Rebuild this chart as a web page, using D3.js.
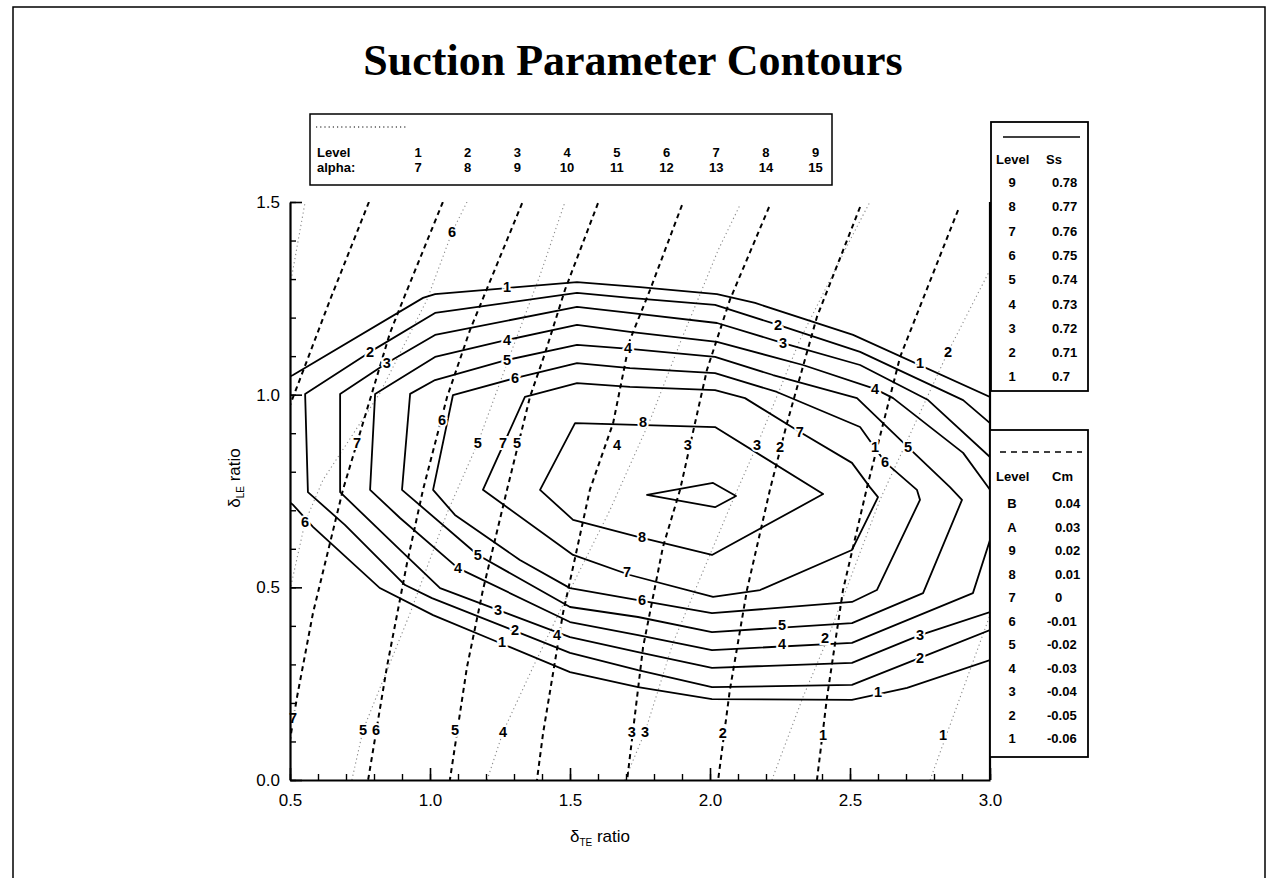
<!DOCTYPE html>
<html>
<head>
<meta charset="utf-8">
<script src="https://cdn.jsdelivr.net/npm/d3@7"></script>
<style>
  body { margin: 0; background: #fff; }
  text { font-family: "Liberation Sans", Arial, sans-serif; fill: #000; }
</style>
</head>
<body>
<div id="chart"></div>
<script>
// ---- data (in axis units) ----
var xTicks = [0.5, 1.0, 1.5, 2.0, 2.5, 3.0];
var yTicks = [0.0, 0.5, 1.0, 1.5];

var alphaLevels = ["1", "2", "3", "4", "5", "6", "7", "8", "9"];
var alphaValues = ["7", "8", "9", "10", "11", "12", "13", "14", "15"];
var ssLevels = ["9", "8", "7", "6", "5", "4", "3", "2", "1"];
var ssValues = ["0.78", "0.77", "0.76", "0.75", "0.74", "0.73", "0.72", "0.71", "0.7"];
var cmLevels = ["B", "A", "9", "8", "7", "6", "5", "4", "3", "2", "1"];
var cmValues = ["0.04", "0.03", "0.02", "0.01", "0", "-0.01", "-0.02", "-0.03", "-0.04", "-0.05", "-0.06"];

// Ss contours (solid)
var ss1 = [[0.5,1.047],[0.511,1.051],[0.975,1.251],[1.018,1.261],[1.525,1.292],[1.75,1.279],[2.025,1.261],[2.161,1.238],[2.511,1.155],[3.0,0.994],
           [3.0,0.311],[2.704,0.239],[2.507,0.208],[2.007,0.21],[1.743,0.241],[1.5,0.28],[1.011,0.428],[0.821,0.498],[0.582,0.657],[0.511,0.714],[0.5,0.72]];
var ss2 = [[0.554,1.002],[0.786,1.111],[1.018,1.212],[1.525,1.264],[1.714,1.251],[2.018,1.233],[2.243,1.181],[2.536,1.111],[2.904,0.986],[3.0,0.926],
           [3.0,0.389],[2.75,0.317],[2.507,0.247],[2.007,0.241],[1.743,0.285],[1.5,0.33],[1.007,0.472],[0.911,0.506],[0.696,0.662],[0.564,0.747]];
var ss3 = [[0.679,1.002],[0.846,1.082],[1.018,1.155],[1.525,1.228],[1.714,1.212],[2.025,1.186],[2.261,1.134],[2.536,1.077],[2.779,0.986],[3.0,0.838],
           [3.0,0.436],[2.75,0.376],[2.507,0.304],[2.007,0.291],[1.743,0.332],[1.5,0.371],[1.036,0.498],[0.893,0.597],[0.679,0.747]];
var ss4 = [[0.804,1.002],[1.018,1.098],[1.275,1.142],[1.525,1.181],[1.714,1.163],[2.025,1.137],[2.332,1.077],[2.589,1.015],[2.654,0.991],[2.904,0.849],[3.0,0.753],
           [3.0,0.623],[2.939,0.485],[2.507,0.356],[2.007,0.337],[1.743,0.376],[1.5,0.41],[1.1,0.55],[0.893,0.68],[0.786,0.753]];
var ss5 = [[0.929,1.002],[1.018,1.038],[1.275,1.09],[1.525,1.129],[1.714,1.119],[2.018,1.098],[2.225,1.051],[2.525,0.991],[2.707,0.864],[2.857,0.76],[2.9,0.727],
           [2.761,0.485],[2.507,0.407],[2.007,0.384],[1.743,0.423],[1.5,0.449],[1.171,0.584],[0.9,0.753]];
var ss6 = [[1.082,0.999],[1.304,1.043],[1.525,1.082],[1.714,1.069],[2.018,1.056],[2.239,1.007],[2.536,0.916],[2.625,0.825],[2.739,0.753],[2.75,0.727],
           [2.596,0.493],[2.507,0.462],[2.007,0.433],[1.743,0.467],[1.5,0.498],[1.321,0.571],[1.089,0.688],[1.011,0.753]];
var ss7 = [[1.339,0.994],[1.525,1.03],[1.714,1.02],[2.018,1.012],[2.125,0.991],[2.321,0.903],[2.507,0.823],[2.571,0.76],[2.6,0.734],
           [2.507,0.597],[2.179,0.493],[2.011,0.475],[1.714,0.532],[1.511,0.584],[1.189,0.753]];
var ss8 = [[1.518,0.926],[2.018,0.916],[2.404,0.742],[2.007,0.584],[1.743,0.631],[1.511,0.675],[1.393,0.753]];
var ss9 = [[1.775,0.74],[2.011,0.771],[2.093,0.737],[2.018,0.708]];

// Cm contours (dashed)
var cm8 = [[0.782,1.5],[0.643,1.246],[0.525,1.02],[0.5,0.973]];
var cm7 = [[1.046,1.5],[0.904,1.246],[0.857,1.16],[0.689,0.753],[0.582,0.433],[0.525,0.215],[0.5,0.104]];
var cm6 = [[1.329,1.497],[1.143,1.168],[1.061,0.994],[0.975,0.753],[0.918,0.563],[0.846,0.293],[0.779,0]];
var cm5 = [[1.6,1.497],[1.482,1.272],[1.411,1.108],[1.357,0.994],[1.275,0.753],[1.189,0.493],[1.132,0.293],[1.071,0]];
var cm4 = [[1.9,1.492],[1.786,1.272],[1.714,1.142],[1.654,0.926],[1.571,0.753],[1.475,0.433],[1.404,0.122],[1.382,0]];
var cm3 = [[2.211,1.487],[2.071,1.246],[1.989,1.064],[1.893,0.753],[1.832,0.605],[1.761,0.345],[1.704,0]];
var cm2 = [[2.536,1.487],[2.382,1.202],[2.275,0.926],[2.214,0.753],[2.132,0.493],[2.071,0.234],[2.029,0]];
var cm1 = [[2.886,1.479],[2.679,1.098],[2.561,0.76],[2.475,0.493],[2.418,0.215],[2.382,0]];

// alpha contours (light dotted)
var al1 = [[2.786,0],[3.0,0.428]];
var al2 = [[2.221,0],[2.332,0.215],[2.418,0.363],[2.607,0.727],[2.85,1.111],[3.0,1.324]];
var al3 = [[1.696,0],[1.768,0.125],[1.868,0.356],[2.082,0.727],[2.168,0.869],[2.321,1.142],[2.5,1.401],[2.571,1.5]];
var al4 = [[1.204,0],[1.261,0.125],[1.368,0.293],[1.5,0.493],[1.643,0.701],[1.786,0.934],[1.893,1.134],[2.029,1.375],[2.107,1.492]];
var al5 = [[0.721,0],[0.761,0.13],[0.929,0.433],[1.061,0.693],[1.171,0.875],[1.286,1.103],[1.393,1.31],[1.482,1.5]];
var al6 = [[0.5,0.493],[0.554,0.67],[0.618,0.779],[0.821,1.004],[0.989,1.246],[1.079,1.422],[1.132,1.5]];
var al7 = [[0.504,1.298],[0.554,1.5]];

// contour labels [x, y, text]
var ssLabels = [
  [1.275,1.279,"1"],[2.75,1.082,"1"],[1.257,0.358,"1"],[2.6,0.228,"1"],
  [0.786,1.111,"2"],[2.243,1.181,"2"],[1.304,0.389,"2"],[2.75,0.317,"2"],
  [0.846,1.082,"3"],[2.261,1.134,"3"],[1.243,0.443,"3"],[2.75,0.376,"3"],
  [1.275,1.142,"4"],[2.589,1.015,"4"],[1.1,0.55,"4"],[2.257,0.354,"4"],
  [1.275,1.09,"5"],[2.707,0.864,"5"],[1.171,0.584,"5"],[2.257,0.404,"5"],
  [1.304,1.043,"6"],[1.043,0.934,"6"],[2.625,0.825,"6"],[1.757,0.467,"6"],
  [1.261,0.875,"7"],[2.321,0.903,"7"],[1.704,0.54,"7"],
  [1.761,0.929,"8"],[1.757,0.631,"8"]
];
var cmLabels = [
  [0.739,0.875,"7"],[0.511,0.161,"7"],[0.807,0.13,"6"],
  [1.089,0.13,"5"],[1.311,0.875,"5"],
  [1.454,0.376,"4"],[1.707,1.121,"4"],[1.668,0.869,"4"],
  [1.921,0.869,"3"],[1.721,0.125,"3"],
  [2.25,0.864,"2"],[2.046,0.122,"2"],
  [2.589,0.864,"1"],[2.404,0.117,"1"]
];
var alphaLabels = [
  [1.079,1.422,"6"],[0.554,0.67,"6"],[1.171,0.875,"5"],[0.761,0.13,"5"],
  [1.261,0.125,"4"],[2.168,0.869,"3"],[1.768,0.125,"3"],
  [2.85,1.111,"2"],[2.411,0.369,"2"],[2.832,0.117,"1"]
];

// ---- layout ----
var svgWidth = 1279;
var svgHeight = 878;
var margin = { top: 202, right: 289, bottom: 98, left: 290 };
var chartWidth = svgWidth - margin.left - margin.right;
var chartHeight = svgHeight - margin.top - margin.bottom;

var svg = d3.select("#chart").append("svg")
  .attr("width", svgWidth)
  .attr("height", svgHeight);

// page frame (open at the bottom, like the scan)
svg.append("path")
  .attr("d", "M13,878V7H1265V878")
  .attr("fill", "none").attr("stroke", "#000").attr("stroke-width", 1.5);

svg.append("text")
  .attr("x", 633).attr("y", 75)
  .attr("text-anchor", "middle")
  .style("font-family", "'Liberation Serif', 'Times New Roman', serif")
  .style("font-weight", "bold")
  .style("font-size", "44px")
  .text("Suction Parameter Contours");

var chartGroup = svg.append("g")
  .attr("transform", `translate(${margin.left}, ${margin.top})`);

var xScale = d3.scaleLinear().domain([0.5, 3.0]).range([0, chartWidth]);
var yScale = d3.scaleLinear().domain([0, 1.5]).range([chartHeight, 0]);

svg.append("defs").append("clipPath").attr("id", "plotclip")
  .append("rect").attr("width", chartWidth).attr("height", chartHeight);

var line = d3.line().x(d => xScale(d[0])).y(d => yScale(d[1]));
var closedLine = d3.line().x(d => xScale(d[0])).y(d => yScale(d[1])).curve(d3.curveLinearClosed);

var plot = chartGroup.append("g").attr("clip-path", "url(#plotclip)");

// alpha dotted
[al1, al2, al3, al4, al5, al6, al7].forEach(function(pts) {
  plot.append("path").attr("d", line(pts))
    .attr("fill", "none").attr("stroke", "#8a8a8a")
    .attr("stroke-width", 1.1).attr("stroke-dasharray", "1.2,3");
});

// Cm dashed
[cm1, cm2, cm3, cm4, cm5, cm6, cm7, cm8].forEach(function(pts) {
  plot.append("path").attr("d", line(pts))
    .attr("fill", "none").attr("stroke", "#000")
    .attr("stroke-width", 2).attr("stroke-dasharray", "5,4");
});

// Ss solid
plot.append("path").attr("d", line(ss1))
  .attr("fill", "none").attr("stroke", "#000").attr("stroke-width", 1.8);
[ss2, ss3, ss4, ss5, ss6, ss7, ss8, ss9].forEach(function(pts) {
  plot.append("path").attr("d", closedLine(pts))
    .attr("fill", "none").attr("stroke", "#000")
    .attr("stroke-width", 1.8).attr("stroke-linejoin", "round");
});

// contour labels, white halo opens a gap in the line
ssLabels.concat(cmLabels, alphaLabels).forEach(function(d) {
  chartGroup.append("text")
    .attr("x", xScale(d[0])).attr("y", yScale(d[1]))
    .attr("dy", "0.36em")
    .attr("text-anchor", "middle")
    .style("font-size", "14.5px").style("font-weight", "bold")
    .style("paint-order", "stroke")
    .attr("stroke", "#fff").attr("stroke-width", 4)
    .text(d[2]);
});

// axes, ticks pointing inward
var minorX = d3.range(5, 31).map(v => v / 10);
var minorY = d3.range(0, 16).map(v => v / 10);

chartGroup.append("g")
  .attr("transform", `translate(0, ${chartHeight})`)
  .call(d3.axisBottom(xScale).tickValues(minorX).tickSize(-6).tickFormat(""))
  .call(g => g.select(".domain").remove())
  .call(g => g.selectAll("line").attr("stroke-width", 1.4));
chartGroup.append("g")
  .attr("transform", `translate(0, ${chartHeight})`)
  .call(d3.axisBottom(xScale).tickValues(xTicks).tickSize(-12).tickSizeOuter(0)
    .tickPadding(14).tickFormat(d3.format(".1f")))
  .call(g => g.select(".domain").attr("stroke-width", 2.2))
  .call(g => g.selectAll("line").attr("stroke-width", 1.6))
  .call(g => g.selectAll("text").style("font-size", "17px").attr("fill", "#000"));

chartGroup.append("g")
  .call(d3.axisLeft(yScale).tickValues(minorY).tickSize(-6).tickFormat(""))
  .call(g => g.select(".domain").remove())
  .call(g => g.selectAll("line").attr("stroke-width", 1.4));
chartGroup.append("g")
  .call(d3.axisLeft(yScale).tickValues(yTicks).tickSize(-12).tickSizeOuter(0)
    .tickPadding(10).tickFormat(d3.format(".1f")))
  .call(g => g.select(".domain").attr("stroke-width", 2.2))
  .call(g => g.selectAll("line").attr("stroke-width", 1.6))
  .call(g => g.selectAll("text").style("font-size", "17px").attr("fill", "#000"));

// right border
chartGroup.append("line")
  .attr("x1", chartWidth).attr("x2", chartWidth)
  .attr("y1", 0).attr("y2", chartHeight)
  .attr("stroke", "#000").attr("stroke-width", 2.2);

// axis titles
var xTitle = svg.append("text").attr("x", 600).attr("y", 842)
  .attr("text-anchor", "middle").style("font-size", "17px");
xTitle.append("tspan").text("\u03b4");
xTitle.append("tspan").attr("dy", 4).style("font-size", "10px").text("TE");
xTitle.append("tspan").attr("dy", -4).text(" ratio");

var yTitle = svg.append("text")
  .attr("transform", "translate(240, 478) rotate(-90)")
  .attr("text-anchor", "middle").style("font-size", "17px");
yTitle.append("tspan").text("\u03b4");
yTitle.append("tspan").attr("dy", 4).style("font-size", "10px").text("LE");
yTitle.append("tspan").attr("dy", -4).text(" ratio");

// ---- legends ----
var legendFont = "13px";

// alpha legend (top)
var aLeg = svg.append("g");
aLeg.append("rect").attr("x", 310).attr("y", 114).attr("width", 522).attr("height", 71)
  .attr("fill", "#fff").attr("stroke", "#000").attr("stroke-width", 1.5);
aLeg.append("line").attr("x1", 316).attr("x2", 406).attr("y1", 127).attr("y2", 127)
  .attr("stroke", "#000").attr("stroke-width", 1).attr("stroke-dasharray", "1.2,3");
aLeg.append("text").attr("x", 317).attr("y", 157).style("font-size", legendFont)
  .style("font-weight", "bold").text("Level");
aLeg.append("text").attr("x", 317).attr("y", 172).style("font-size", legendFont)
  .style("font-weight", "bold").text("alpha:");
alphaLevels.forEach(function(lv, i) {
  var cx = 418 + i * 49.7;
  aLeg.append("text").attr("x", cx).attr("y", 157).attr("text-anchor", "middle")
    .style("font-size", legendFont).style("font-weight", "bold").text(lv);
  aLeg.append("text").attr("x", cx).attr("y", 172).attr("text-anchor", "middle")
    .style("font-size", legendFont).style("font-weight", "bold").text(alphaValues[i]);
});

// Ss legend
var sLeg = svg.append("g");
sLeg.append("rect").attr("x", 991).attr("y", 122).attr("width", 97).attr("height", 269)
  .attr("fill", "#fff").attr("stroke", "#000").attr("stroke-width", 1.8);
sLeg.append("line").attr("x1", 1003).attr("x2", 1080).attr("y1", 137).attr("y2", 137)
  .attr("stroke", "#000").attr("stroke-width", 1.6);
sLeg.append("text").attr("x", 996).attr("y", 164).style("font-size", legendFont)
  .style("font-weight", "bold").text("Level");
sLeg.append("text").attr("x", 1046).attr("y", 164).style("font-size", legendFont)
  .style("font-weight", "bold").text("Ss");
ssLevels.forEach(function(lv, i) {
  var yy = 187 + i * 24.3;
  sLeg.append("text").attr("x", 1012).attr("y", yy).attr("text-anchor", "middle")
    .style("font-size", legendFont).style("font-weight", "bold").text(lv);
  sLeg.append("text").attr("x", 1052).attr("y", yy)
    .style("font-size", legendFont).style("font-weight", "bold").text(ssValues[i]);
});

// Cm legend
var cLeg = svg.append("g");
cLeg.append("rect").attr("x", 990).attr("y", 430).attr("width", 98).attr("height", 327)
  .attr("fill", "#fff").attr("stroke", "#000").attr("stroke-width", 1.8);
cLeg.append("line").attr("x1", 1000).attr("x2", 1082).attr("y1", 452).attr("y2", 452)
  .attr("stroke", "#000").attr("stroke-width", 1.6).attr("stroke-dasharray", "6,5");
cLeg.append("text").attr("x", 996).attr("y", 481).style("font-size", legendFont)
  .style("font-weight", "bold").text("Level");
cLeg.append("text").attr("x", 1052).attr("y", 481).style("font-size", legendFont)
  .style("font-weight", "bold").text("Cm");
cmLevels.forEach(function(lv, i) {
  var yy = 508 + i * 23.5;
  cLeg.append("text").attr("x", 1012).attr("y", yy).attr("text-anchor", "middle")
    .style("font-size", legendFont).style("font-weight", "bold").text(lv);
  var neg = cmValues[i].charAt(0) === "-";
  cLeg.append("text").attr("x", neg ? 1047 : 1055).attr("y", yy)
    .style("font-size", legendFont).style("font-weight", "bold").text(cmValues[i]);
});
</script>
</body>
</html>
